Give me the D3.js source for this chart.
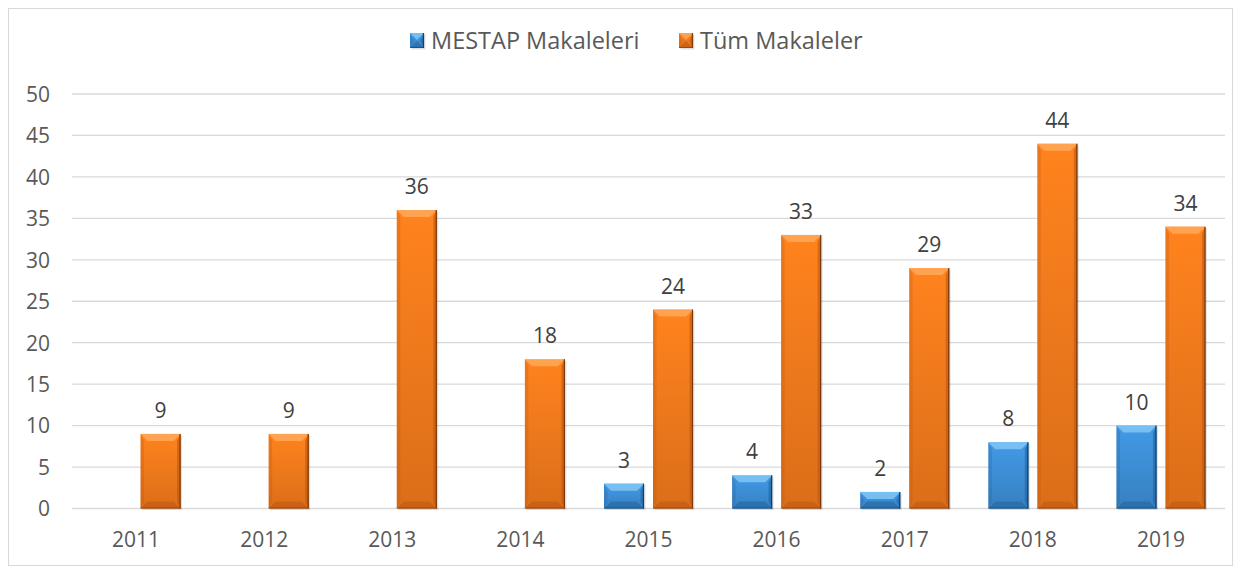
<!DOCTYPE html>
<html><head><meta charset="utf-8">
<script src="https://cdn.jsdelivr.net/npm/d3@7"></script>
<style>body{margin:0;background:#fff}svg{display:block}text{font-family:"Open Sans","Noto Sans",sans-serif}</style>
</head><body><svg id="c" width="1241" height="572"></svg>
<script>
const categories = ["2011","2012","2013","2014","2015","2016","2017","2018","2019"];
const seriesNames = ["MESTAP Makaleleri","Tüm Makaleler"];
const mestap = [0,0,0,0,3,4,2,8,10];
const tum = [9,9,36,18,24,33,29,44,34];
const yTicks = [0,5,10,15,20,25,30,35,40,45,50];

const svg = d3.select("#c");
svg.append("rect").attr("x",8.5).attr("y",8.5).attr("width",1224).attr("height",557).attr("fill","#fff").attr("stroke","#d9d9d9");

const x = d3.scaleBand().domain(categories).range([72,1225]);
const y = d3.scaleLinear().domain([0,50]).range([508.5,94]);
const colors = [
  {base:"#3d8fd6", light:"#8fd0fa", dark:"#1f5f99", edge:"#173f66"},
  {base:"#f47a1c", light:"#ffb066", dark:"#b95410", edge:"#7a3a0a"}
];
const defs = svg.append("defs");
colors.forEach((c,i)=>{
  const g = defs.append("linearGradient").attr("id","g"+i).attr("x1","0").attr("y1","0").attr("x2","0").attr("y2","1");
  g.append("stop").attr("offset","0").attr("stop-color",d3.color(c.base).brighter(0.2));
  g.append("stop").attr("offset","1").attr("stop-color",d3.color(c.base).darker(0.3));
});

svg.append("g").selectAll("line").data(yTicks).join("line")
  .attr("x1",72).attr("x2",1225).attr("y1",d=>y(d)).attr("y2",d=>y(d))
  .attr("stroke","#d9d9d9").attr("stroke-width",1.3);

const yAxis = d3.axisLeft(y).tickValues(yTicks).tickSize(0).tickPadding(0);
const ya = svg.append("g").attr("transform","translate(50,0)").call(yAxis);
ya.select(".domain").remove();
ya.selectAll("text").attr("font-size",21).attr("fill","#595959").attr("text-anchor","end").attr("dy","0.35em");

const xAxis = d3.axisBottom(x).tickSize(0).tickPadding(0);
const xa = svg.append("g").attr("transform","translate(0,532)").call(xAxis);
xa.select(".domain").remove();
xa.selectAll("text").attr("font-size",21).attr("fill","#595959");

const bw = 40, gap = 4.5;
const data = [];
categories.forEach((c,i)=>{
  [mestap[i],tum[i]].forEach((v,s)=>{ if (v>0) data.push({c, v, s}); });
});
function drawBar(g, x0, y0, w, h, c, s){
  const b = Math.min(7, h/2);
  g.append("rect").attr("x",x0+1.5).attr("y",y0+1.5).attr("width",w).attr("height",h).attr("fill","rgba(0,0,0,0.12)");
  g.append("rect").attr("x",x0).attr("y",y0).attr("width",w).attr("height",h).attr("fill","url(#g"+s+")");
  g.append("polygon").attr("points",[[x0,y0],[x0+w,y0],[x0+w-b,y0+b],[x0+b,y0+b]].join(" ")).attr("fill",c.light).attr("opacity",0.7);
  g.append("polygon").attr("points",[[x0,y0+h],[x0+w,y0+h],[x0+w-b,y0+h-b],[x0+b,y0+h-b]].join(" ")).attr("fill",c.dark).attr("opacity",0.5);
  g.append("polygon").attr("points",[[x0,y0],[x0+b*0.5,y0+b],[x0+b*0.5,y0+h-b],[x0,y0+h]].join(" ")).attr("fill",c.dark).attr("opacity",0.25);
  g.append("polygon").attr("points",[[x0+w,y0],[x0+w-b*0.5,y0+b],[x0+w-b*0.5,y0+h-b],[x0+w,y0+h]].join(" ")).attr("fill",c.dark).attr("opacity",0.55);
  g.append("line").attr("x1",x0+w-0.5).attr("x2",x0+w-0.5).attr("y1",y0).attr("y2",y0+h).attr("stroke",c.edge).attr("stroke-width",1.2);
  g.append("line").attr("x1",x0).attr("x2",x0+w).attr("y1",y0+h-0.5).attr("y2",y0+h-0.5).attr("stroke",c.edge).attr("stroke-width",1).attr("opacity",0.6);
}
const bars = svg.append("g");
data.forEach(d=>{
  const cx = x(d.c)+x.bandwidth()/2;
  const x0 = d.s===0 ? cx-gap-bw : cx+gap;
  const y0 = y(d.v);
  drawBar(bars, x0, y0, bw, y(0)-y0, colors[d.s], d.s);
  bars.append("text").attr("x",x0+bw/2).attr("y",y0-16).attr("text-anchor","middle")
    .attr("font-size",21).attr("fill","#404040").text(d.v);
});

const leg = svg.append("g");
const legItems = [{x:410, tx:431}, {x:679, tx:700}];
seriesNames.forEach((n,i)=>{
  const lg = leg.append("g");
  drawBar(lg, legItems[i].x, 33, 14, 15, colors[i], i);
  lg.append("text").attr("x",legItems[i].tx).attr("y",49).attr("font-size",23.5).attr("fill","#595959").text(n);
});
</script></body></html>
